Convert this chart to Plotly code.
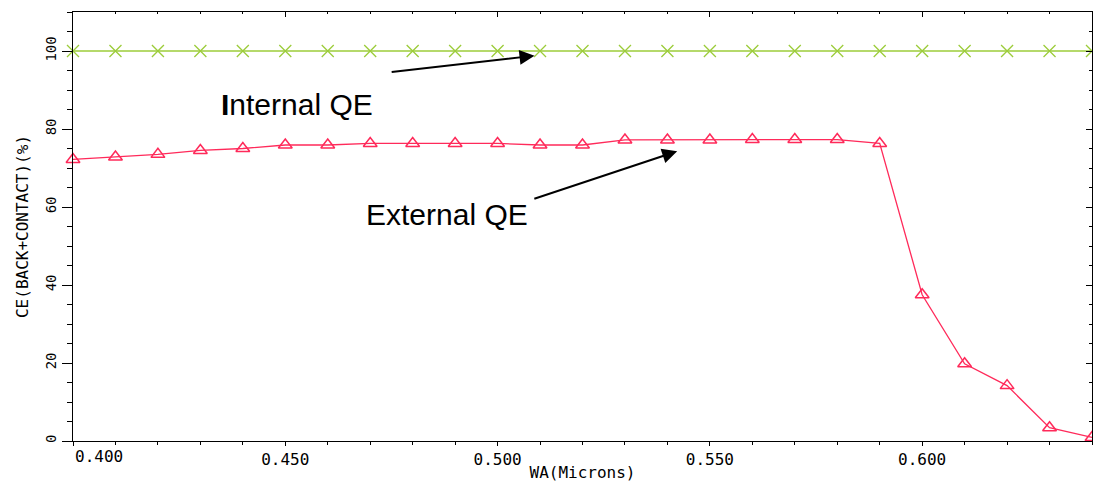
import plotly.graph_objects as go

wa = [0.40, 0.41, 0.42, 0.43, 0.44, 0.45, 0.46, 0.47, 0.48, 0.49, 0.50, 0.51, 0.52,
      0.53, 0.54, 0.55, 0.56, 0.57, 0.58, 0.59, 0.60, 0.61, 0.62, 0.63, 0.64]
internal_qe = [100.0] * len(wa)
external_qe = [72.2, 72.8, 73.5, 74.5, 75.0, 75.9, 75.9, 76.3, 76.3, 76.3, 76.3, 75.9, 75.9,
               77.2, 77.2, 77.2, 77.3, 77.3, 77.3, 76.3, 37.5, 19.8, 14.2, 3.4, 0.9]

x_tickvals = [0.40, 0.45, 0.50, 0.55, 0.60]
x_ticktext = ["", "0.450", "0.500", "0.550", "0.600"]
y_tickvals = [0, 20, 40, 60, 80, 100]
y_ticktext = ["0", "20", "40", "60", "80", "100"]

GREEN = "#9ccc3a"
RED = "#ff2a5a"
MONO = "DejaVu Sans Mono"

fig = go.Figure()
fig.add_trace(go.Scatter(
    x=wa, y=internal_qe, mode="lines+markers",
    line=dict(color=GREEN, width=1.5),
    marker=dict(symbol="x-thin-open", size=12, line=dict(color=GREEN, width=1.3)),
    showlegend=False, cliponaxis=False))
fig.add_trace(go.Scatter(
    x=wa, y=external_qe, mode="lines+markers",
    line=dict(color=RED, width=1.3),
    marker=dict(symbol="triangle-up-open", size=12, color=RED, line=dict(color=RED, width=1.5)),
    showlegend=False, cliponaxis=False))

# invisible trace to activate top/right mirror axes
fig.add_trace(go.Scatter(x=[wa[0]], y=[0], xaxis="x2", yaxis="y2", mode="markers",
                         marker=dict(opacity=0), showlegend=False, hoverinfo="skip"))

XR = [0.4, 0.64]
YR = [0, 110]

fig.update_layout(
    width=1093, height=482,
    margin=dict(l=73, r=1, t=12, b=41),
    paper_bgcolor="white", plot_bgcolor="white",
    xaxis=dict(range=XR, showgrid=False, zeroline=False,
               showline=True, linecolor="black", linewidth=1.3,
               tickvals=x_tickvals, ticktext=x_ticktext,
               ticks="outside", ticklen=4, tickwidth=1.3, tickcolor="black",
               minor=dict(dtick=0.01, tick0=0.4, ticks="outside", ticklen=3, tickwidth=1.3, tickcolor="black"),
               tickfont=dict(family=MONO, size=16, color="black"),
               title=dict(text="WA(Microns)", font=dict(family=MONO, size=16, color="black"), standoff=0)),
    yaxis=dict(range=YR, showgrid=False, zeroline=False,
               showline=True, linecolor="black", linewidth=1.3,
               tickvals=y_tickvals, ticktext=y_ticktext, tickangle=-90,
               ticks="outside", ticklen=10, tickwidth=1.3, tickcolor="black",
               minor=dict(dtick=5, tick0=0, ticks="outside", ticklen=5, tickwidth=1.3, tickcolor="black"),
               tickfont=dict(family=MONO, size=14, color="black"),
               title=dict(text="CE(BACK+CONTACT)(%)", font=dict(family=MONO, size=16, color="black"), standoff=10)),
    xaxis2=dict(range=XR, overlaying="x", side="top", showgrid=False, zeroline=False,
                showline=True, linecolor="black", linewidth=1.3,
                tickvals=x_tickvals, showticklabels=False,
                ticks="inside", ticklen=5, tickwidth=1.3, tickcolor="black",
                minor=dict(dtick=0.01, tick0=0.4, ticks="inside", ticklen=2, tickwidth=1.3, tickcolor="black")),
    yaxis2=dict(range=YR, overlaying="y", side="right", showgrid=False, zeroline=False,
                showline=True, linecolor="black", linewidth=1.3,
                tickvals=y_tickvals, showticklabels=False,
                ticks="inside", ticklen=6, tickwidth=1.3, tickcolor="black",
                minor=dict(dtick=5, tick0=0, ticks="inside", ticklen=3, tickwidth=1.3, tickcolor="black")),
    annotations=[
        dict(x=0.40, y=0, xref="x", yref="y", text="0.400", showarrow=False,
             xanchor="left", yanchor="top", yshift=-4,
             font=dict(family=MONO, size=16, color="black")),
        dict(x=0.4345, y=86.3, xref="x", yref="y", text="<b>I</b>nternal QE", showarrow=False,
             xanchor="left", yanchor="middle", font=dict(family="Liberation Sans", size=30, color="black")),
        dict(x=0.4685, y=58.0, xref="x", yref="y", text="External QE", showarrow=False,
             xanchor="left", yanchor="middle", font=dict(family="Liberation Sans", size=30, color="black")),
        dict(x=0.5087, y=98.8, xref="x", yref="y", ax=0.4747, ay=94.6, axref="x", ayref="y",
             text="", showarrow=True, arrowhead=2, arrowsize=1.5, arrowwidth=2, arrowcolor="black"),
        dict(x=0.5423, y=74.3, xref="x", yref="y", ax=0.5083, ay=62.0, axref="x", ayref="y",
             text="", showarrow=True, arrowhead=2, arrowsize=1.5, arrowwidth=2, arrowcolor="black"),
    ],
)

fig.write_html("out.html")
